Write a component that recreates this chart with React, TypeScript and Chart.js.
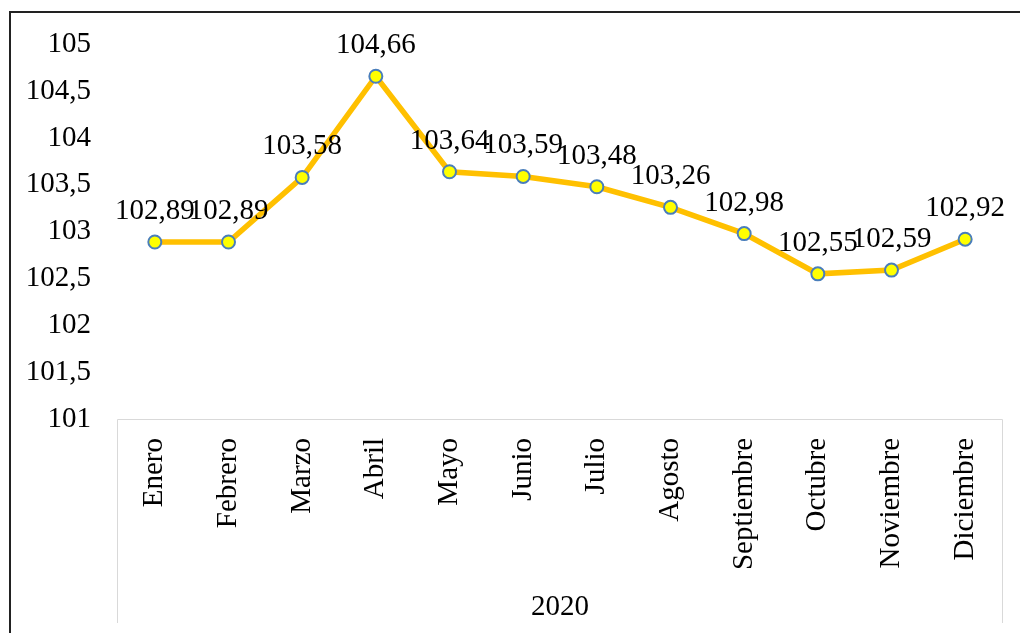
import React, { useEffect, useRef } from "react";
import { Chart, registerables } from "chart.js";

Chart.register(...registerables);

const months = [
  "Enero", "Febrero", "Marzo", "Abril", "Mayo", "Junio",
  "Julio", "Agosto", "Septiembre", "Octubre", "Noviembre", "Diciembre",
];
const values = [102.89, 102.89, 103.58, 104.66, 103.64, 103.59, 103.48, 103.26, 102.98, 102.55, 102.59, 102.92];
const groupLabel = "2020";
const yMin = 101;
const yMax = 105;
const yStep = 0.5;

const FONT = "'Liberation Serif', 'Times New Roman', serif";
const FSIZE = 29;
const fmt = (v: number, d: number) => v.toFixed(d).replace(".", ",");

const decorPlugin = {
  id: "decor",
  beforeDraw(chart: any) {
    const ctx = chart.ctx;
    ctx.save();
    ctx.fillStyle = "#222";
    ctx.fillRect(9, 11, chart.width - 9, 2);
    ctx.fillRect(9, 11, 2, chart.height - 11);
    ctx.restore();
  },
  afterDraw(chart: any) {
    const ctx = chart.ctx;
    const a = chart.chartArea;
    ctx.save();
    ctx.strokeStyle = "#D9D9D9";
    ctx.lineWidth = 1;
    ctx.beginPath();
    ctx.moveTo(a.left - 0.5, 623);
    ctx.lineTo(a.left - 0.5, a.bottom + 0.5);
    ctx.lineTo(a.right + 0.5, a.bottom + 0.5);
    ctx.lineTo(a.right + 0.5, 623);
    ctx.stroke();
    ctx.fillStyle = "#000";
    ctx.font = `${FSIZE}px ${FONT}`;
    ctx.textAlign = "center";
    ctx.textBaseline = "middle";
    ctx.fillText(groupLabel, (a.left + a.right) / 2, 607);
    const meta = chart.getDatasetMeta(0);
    ctx.textBaseline = "alphabetic";
    meta.data.forEach((pt: any, i: number) => {
      ctx.fillText(fmt(values[i], 2), pt.x, pt.y - 23);
    });
    ctx.restore();
  },
};

export default function App() {
  const ref = useRef<HTMLCanvasElement>(null);
  useEffect(() => {
    if (!ref.current) return;
    const chart = new Chart(ref.current, {
      type: "line",
      data: {
        labels: months,
        datasets: [
          {
            data: values,
            borderColor: "#FFC000",
            borderWidth: 5.5,
            tension: 0,
            pointRadius: 6.5,
            pointHoverRadius: 6.5,
            pointBackgroundColor: "#FFFF00",
            pointBorderColor: "#4A7EBB",
            pointBorderWidth: 2,
          },
        ],
      },
      options: {
        animation: false,
        responsive: false,
        layout: { padding: { left: 0, right: 18, top: 41, bottom: 0 } },
        plugins: { legend: { display: false }, tooltip: { enabled: false } },
        scales: {
          x: {
            offset: true,
            grid: { display: false, drawTicks: false },
            border: { display: false },
            ticks: {
              autoSkip: false,
              minRotation: 90,
              maxRotation: 90,
              padding: 19,
              color: "#000",
              font: { family: FONT, size: FSIZE },
            },
            afterFit(scale: any) {
              scale.height = 214;
            },
          },
          y: {
            min: yMin,
            max: yMax,
            grid: { display: false, drawTicks: false },
            border: { display: false },
            ticks: {
              stepSize: yStep,
              padding: 27,
              color: "#000",
              font: { family: FONT, size: FSIZE },
              callback: (v: any) => {
                const n = Number(v);
                return Number.isInteger(n) ? String(n) : fmt(n, 1);
              },
            },
            afterFit(scale: any) {
              scale.width = 118;
            },
          },
        },
      },
      plugins: [decorPlugin],
    });
    return () => chart.destroy();
  }, []);
  return (
    <div style={{ position: "absolute", left: 0, top: 0, width: 1020, height: 633, background: "#fff" }}>
      <canvas ref={ref} width={1020} height={633} style={{ display: "block" }} />
    </div>
  );
}
